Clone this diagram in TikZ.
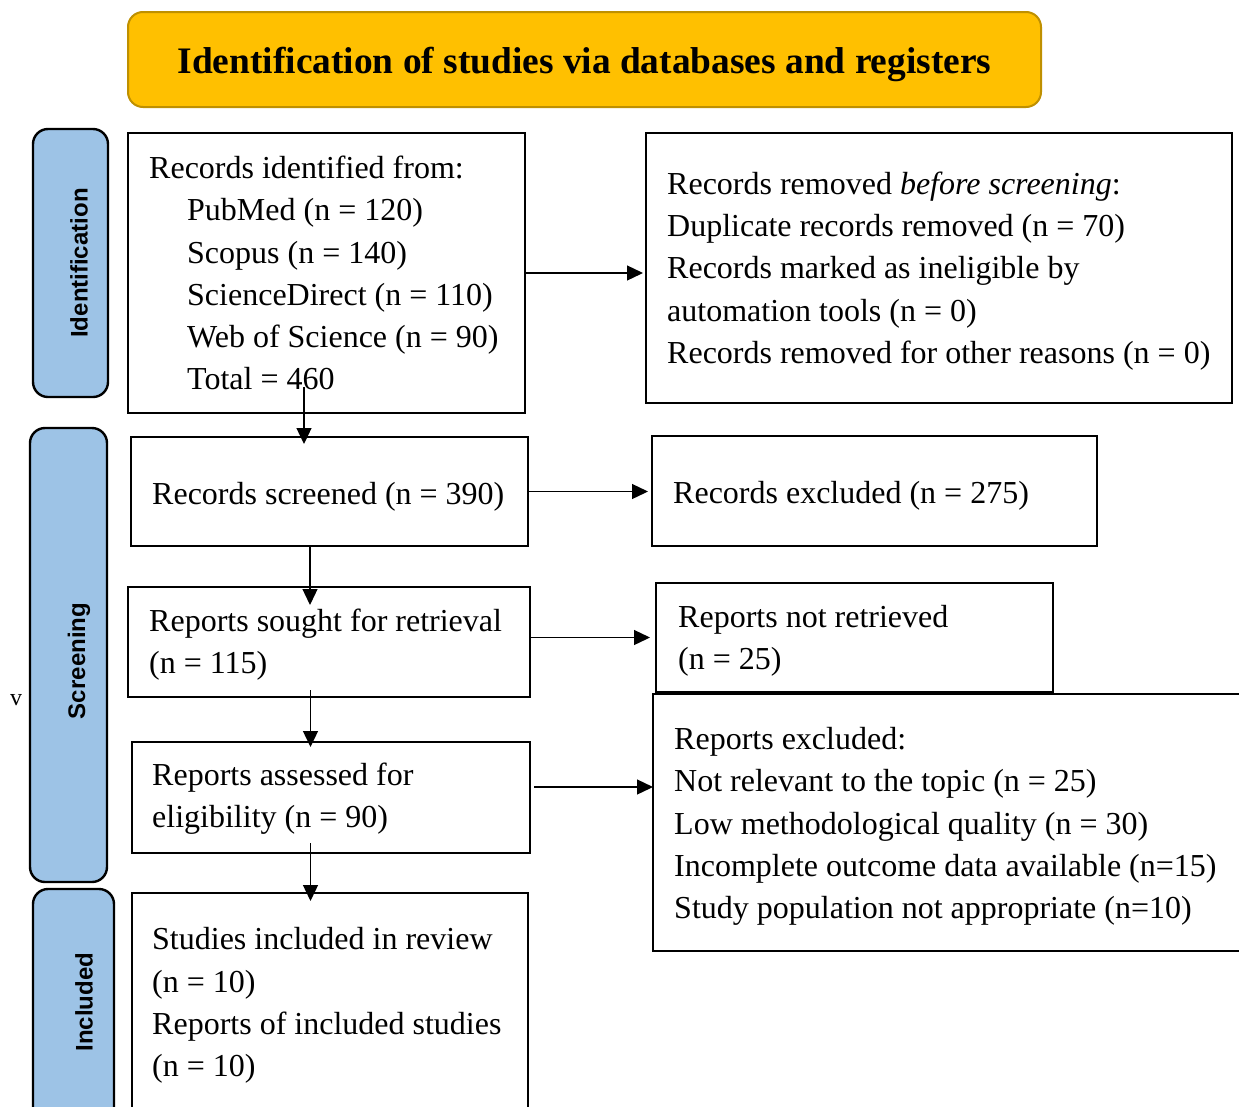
\documentclass[tikz,border=0pt]{standalone}
\usepackage{fontspec}
\setmainfont{Liberation Serif}
\setsansfont{Liberation Sans}
\usetikzlibrary{arrows.meta,calc}
\definecolor{gold}{HTML}{FFC000}
\definecolor{golddark}{HTML}{BF9000}
\definecolor{sideblue}{HTML}{9DC3E6}
\begin{document}
\begin{tikzpicture}[x=1pt,y=-1pt,
  box/.style={draw=black, line width=2.2pt, anchor=north west, inner sep=0pt, outer sep=0pt},
  txt/.style={anchor=west, align=left, inner sep=0pt, font=\fontsize{32}{42.2}\selectfont},
  side/.style={draw=black, line width=2.4pt, fill=sideblue, rounded corners=15pt, anchor=north west, inner sep=0pt, outer sep=0pt},
  sidetext/.style={rotate=90, inner sep=0pt, font=\sffamily\bfseries\fontsize{24}{28}\selectfont},
  arr/.style={line width=1.3pt, -{Triangle[length=16pt,width=15pt]}}]
\useasboundingbox (0,0) rectangle (1239,1106);

% title
\node[draw=golddark, line width=2pt, fill=gold, rounded corners=15pt, anchor=north west,
      minimum width=913pt, minimum height=95pt, inner sep=0pt, outer sep=0pt] (title) at (128,12) {};
\node[inner sep=0pt, font=\bfseries\fontsize{37.4}{44}\selectfont] (titletext) at ([yshift=-4.5pt]title.center)
      {Identification of studies via databases and registers};

% side labels
\node[side, minimum width=75pt, minimum height=268pt] (s1) at (33,129) {};
\node[side, minimum width=77pt, minimum height=454pt] (s2) at (30,428) {};
\node[side, minimum width=81pt, minimum height=240pt] (s3) at (33,889) {};
\node[sidetext] (s1t) at (79,263) {Identification};
\node[sidetext] (s2t) at (79,661) {Screening};
\node[sidetext] (s3t) at (84,1002) {Included};
\node[font=\fontsize{24}{28}\selectfont, inner sep=0pt] (vmark) at (16,700) {v};

% left column boxes
\node[box, minimum width=397pt, minimum height=280pt] (b1) at (128,133) {};
\node[box, minimum width=397pt, minimum height=109pt] (b2) at (131,437) {};
\node[box, minimum width=402pt, minimum height=110pt] (b3) at (128,587) {};
\node[box, minimum width=398pt, minimum height=111pt] (b4) at (132,742) {};
\node[box, minimum width=396pt, minimum height=220pt] (b5) at (132,893) {};

% right column boxes
\node[box, minimum width=586pt, minimum height=270pt] (r1) at (646,133) {};
\node[box, minimum width=445pt, minimum height=110pt] (r2) at (652,436) {};
\node[box, minimum width=397pt, minimum height=109pt] (r3) at (656,583) {};
\node[box, minimum width=600pt, minimum height=257pt] (r4) at (653,694) {};

% texts
\node[txt] (t1) at ([xshift=21pt]b1.west) {Records identified from:\\
\hspace*{38pt}PubMed (n = 120)\\
\hspace*{38pt}Scopus (n = 140)\\
\hspace*{38pt}ScienceDirect (n = 110)\\
\hspace*{38pt}Web of Science (n = 90)\\
\hspace*{38pt}Total = 460};
\node[txt] (t2) at ([xshift=21pt,yshift=-5pt]b2.west) {Records screened (n = 390)};
\node[txt] (t3) at ([xshift=21pt,yshift=-3pt]b3.west) {Reports sought for retrieval\\(n = 115)};
\node[txt] (t4) at ([xshift=20pt,yshift=-1pt]b4.west) {Reports assessed for\\eligibility (n = 90)};
\node[txt] (t5) at ([xshift=20pt,yshift=-2.5pt]b5.west) {Studies included in review\\(n = 10)\\Reports of included studies\\(n = 10)};

\node[txt] (u1) at ([xshift=21pt,yshift=-3pt]r1.west) {Records removed \textit{before screening}:\\
Duplicate records removed (n = 70)\\
Records marked as ineligible by\\
automation tools (n = 0)\\
Records removed for other reasons (n = 0)};
\node[txt] (u2) at ([xshift=21pt,yshift=-5pt]r2.west) {Records excluded (n = 275)};
\node[txt] (u3) at ([xshift=22pt,yshift=-3pt]r3.west) {Reports not retrieved\\(n = 25)};
\node[txt] (u4) at ([xshift=21pt,yshift=-4pt]r4.west) {Reports excluded:\\
Not relevant to the topic (n = 25)\\
Low methodological quality (n = 30)\\
Incomplete outcome data available (n=15)\\
Study population not appropriate (n=10)};

% horizontal arrows
\draw[arr, shorten >=3pt] (b1.east) -- (b1.east -| r1.west);
\draw[arr, shorten >=4pt] (b2.east) -- (b2.east -| r2.west);
\draw[arr, shorten >=6pt] (r3.west -| b3.east) -- (r3.west);
\coordinate (a4s) at (534,787);
\draw[arr] (a4s) -- (a4s -| r4.west);

% vertical arrows
\coordinate (v1s) at (304,387);
\coordinate (v2s) at (310,546);
\coordinate (v3s) at (310.5,690);
\coordinate (v4s) at (310.5,843);
\draw[arr] (v1s) -- ($(b2.north -| v1s)+(0,7)$);
\draw[arr] (v2s) -- ($(b3.north -| v2s)+(0,18)$);
\draw[arr] (v3s) -- ($(b4.north -| v3s)+(0,5)$);
\draw[arr] (v4s) -- ($(b5.north -| v4s)+(0,8)$);
\end{tikzpicture}
\end{document}
